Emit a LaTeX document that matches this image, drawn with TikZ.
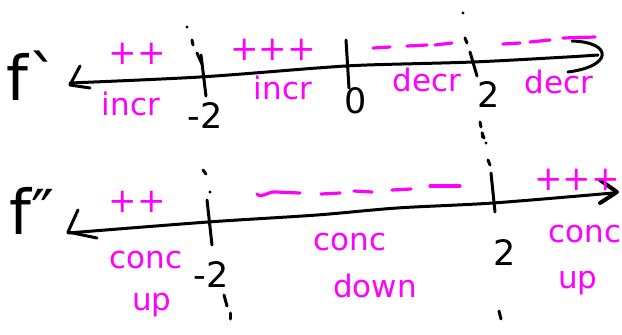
\documentclass[tikz,border=0pt]{standalone}
\usepackage{fontspec}
\newfontfamily\hand{DejaVu Sans}
\definecolor{pinkc}{RGB}{255,0,255}
\tikzset{
  ink/.style={line width=3pt, line cap=round, line join=round, black},
  pinkdash/.style={line width=3.2pt, line cap=round, pinkc},
  lbl/.style={text=pinkc, font=\hand\fontsize{31}{31}\selectfont, inner sep=0pt, anchor=base},
  sgn/.style={text=pinkc, font=\hand\fontsize{34}{34}\selectfont, inner sep=0pt},
  num/.style={font=\hand\fontsize{35}{35}\selectfont, inner sep=0pt, anchor=base},
  fn/.style={font=\hand\fontsize{62}{62}\selectfont, inner sep=0pt},
}
\begin{document}
\begin{tikzpicture}[x=1pt,y=-1pt]
\useasboundingbox (0,0) rectangle (622,335);

% ---------- f' line ----------
\node[fn] (fp) at (33,76) {f`};
\draw[ink] plot[smooth] coordinates {(70,83) (200,77) (317,68) (367,65) (473,62) (567,57) (598,55)};
\draw[ink] (80,66) -- (70,85) -- (90,88);
\draw[ink] (572,41) .. controls (612,42) and (614,66) .. (568,72);

% ticks
\fill (187,27) circle (1.6);
\draw[ink] (192,40) -- (193,45);
\draw[ink] (197,53) -- (202,64);
\draw[ink] (201,55) -- (206,96);
\draw[ink] (346,40) -- (349,88);
\fill (463,13) circle (1.6);
\draw[ink] (465,38) -- (467,43);
\draw[ink] (470,52) -- (477,76);
\draw[ink] (480,122) -- (481,127);
\draw[ink] (482,133) -- (482,137);

\node[num] (m2a) at (205,128) {-2};
\node[num] (z0) at (356,113) {0};
\node[num] (p2a) at (489,107) {2};

% signs
\node[sgn] (pp1) at (137,54) {++};
\node[sgn] (pp2) at (273,50) {+++};
\draw[pinkdash] (373,48) -- (390,47);
\draw[pinkdash] (407,46) -- (427,45);
\draw[pinkdash] (435,45) -- (452,43);
\draw[pinkdash] (503,44) -- (520,43);
\draw[pinkdash] (530,42) -- (550,40);
\draw[pinkdash] (563,38) -- (595,37);

\node[lbl] (i1) at (131,115) {incr};
\node[lbl] (i2) at (283,99) {incr};
\node[lbl] (d1) at (427,91) {decr};
\node[lbl] (d2) at (559,93) {decr};

% ---------- f'' line ----------
\node[fn] (fpp) at (32,211) {f″};
\draw[ink] plot[smooth] coordinates {(68,233) (208,222) (317,215) (397,208) (493,203) (613,193)};
\draw[ink] (78,210) -- (68,232) -- (97,238);
\draw[ink, line width=4pt] (600,180) -- (617,192) -- (600,203);

\draw[ink] (203,170) -- (206,174);
\fill (210,192) circle (1.6);
\draw[ink] (207,200) -- (212,245);
\draw[ink] (224,295) -- (227,306);
\draw[ink] (230,313) -- (230,319);
\draw[ink] (482,133) -- (484,138);
\fill (486,143) circle (1.6);
\draw[ink] (488,160) -- (490,165);
\draw[ink] (491,173) -- (495,212);
\draw[ink] (499,311) -- (501,319);

\node[num] (m2b) at (211,287) {-2};
\node[num] (p2b) at (505,265) {2};

\node[sgn] (pp3) at (137,202) {++};
\node[sgn] (pp4) at (577,180) {+++};
\draw[pinkdash] (257,194) .. controls (262,199) and (268,191) .. (276,192) -- (300,193);
\draw[pinkdash] (321,194) -- (340,193);
\draw[pinkdash] (354,191) -- (372,192);
\draw[pinkdash] (392,190) -- (411,189);
\draw[pinkdash] (430,186) -- (460,186);

\node[lbl] (c1) at (146,268) {conc};
\node[lbl] (u1) at (152,310) {up};
\node[lbl] (c2) at (350,250) {conc};
\node[lbl] (dn) at (375,297) {down};
\node[lbl] (c3) at (585,242) {conc};
\node[lbl] (u3) at (578,288) {up};
\end{tikzpicture}
\end{document}
